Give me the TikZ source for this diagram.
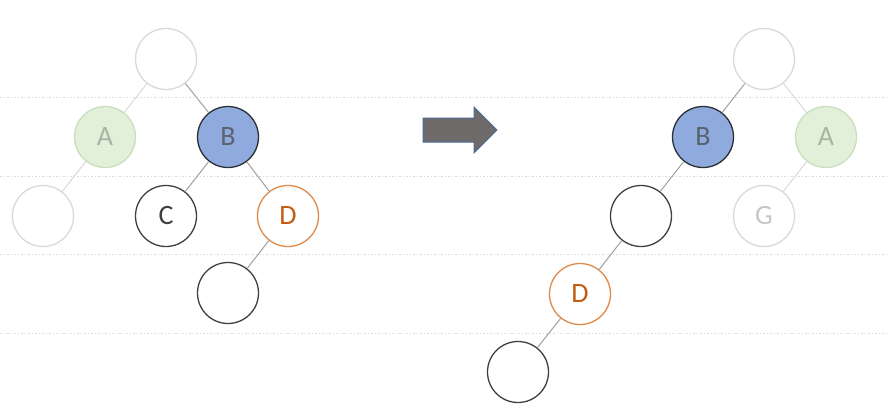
\documentclass[tikz,border=0pt]{standalone}
\usepackage{fontspec}
\setmainfont{Carlito}
\definecolor{faint}{HTML}{D9D9D9}
\definecolor{faintedge}{HTML}{D9D9D9}
\definecolor{darkedge}{HTML}{A0A0A0}
\definecolor{afill}{HTML}{E2F0D9}
\definecolor{aborder}{HTML}{C9DFBC}
\definecolor{atext}{HTML}{A9B3A4}
\definecolor{bfill}{HTML}{8FAADC}
\definecolor{bborder}{HTML}{2B2F36}
\definecolor{btext}{HTML}{5A6270}
\definecolor{cborder}{HTML}{404040}
\definecolor{dcol}{HTML}{C55A11}
\definecolor{dborder}{HTML}{E08A4A}
\definecolor{arrowfill}{HTML}{6F6A6A}
\definecolor{arrowborder}{HTML}{4A6A9E}
\definecolor{gridcol}{HTML}{DADADA}
\begin{document}
\begin{tikzpicture}[x=1pt,y=-1pt,
  circ/.style={circle,minimum size=61pt,inner sep=0pt,line width=1.3pt,fill=white,font=\fontsize{28}{28}\selectfont},
  lightc/.style={circ,draw=faint,text=faint!80!gray},
  acirc/.style={circ,draw=aborder,fill=afill,text=atext},
  bcirc/.style={circ,draw=bborder,fill=bfill,text=btext},
  darkc/.style={circ,draw=cborder,text=cborder},
  dcirc/.style={circ,draw=dborder,text=dcol},
  ledge/.style={draw=faintedge,line width=1pt},
  dedge/.style={draw=darkedge,line width=1pt},
  grid/.style={draw=gridcol,line width=0.8pt,dash pattern=on 1.5pt off 2pt}]
\useasboundingbox (0,0) rectangle (887,416);
\coordinate (g1l) at (0,97); \coordinate (g1r) at (887,97);
\coordinate (g2l) at (0,176); \coordinate (g2r) at (887,176);
\coordinate (g3l) at (0,254); \coordinate (g3r) at (887,254);
\coordinate (g4l) at (0,333); \coordinate (g4r) at (887,333);
\draw[grid] (g1l) -- (g1r);
\draw[grid] (g2l) -- (g2r);
\draw[grid] (g3l) -- (g3r);
\draw[grid] (g4l) -- (g4r);
% left tree
\node[lightc] (lr) at (166,59) {};
\node[acirc] (la) at (105,137) {A};
\node[bcirc] (lb) at (228,137) {B};
\node[lightc] (le) at (43,216) {};
\node[darkc] (lc) at (166,216) {C};
\node[dcirc] (ld) at (288,216) {D};
\node[darkc] (lbot) at (228,293) {};
\draw[ledge] (lr) -- (la);
\draw[dedge] (lr) -- (lb);
\draw[ledge] (la) -- (le);
\draw[dedge] (lb) -- (lc);
\draw[dedge] (lb) -- (ld);
\draw[dedge] (ld) -- (lbot);
% right tree
\node[lightc] (rr) at (764,59) {};
\node[bcirc] (rb) at (703,137) {B};
\node[acirc] (ra) at (826,137) {A};
\node[darkc] (re) at (641,216) {};
\node[lightc] (rg) at (764,216) {G};
\node[dcirc] (rd) at (580,294) {D};
\node[darkc] (rbot) at (518,372) {};
\draw[dedge] (rr) -- (rb);
\draw[ledge] (rr) -- (ra);
\draw[dedge] (rb) -- (re);
\draw[ledge] (ra) -- (rg);
\draw[dedge] (re) -- (rd);
\draw[dedge] (rd) -- (rbot);
% arrow
\draw[fill=arrowfill,draw=arrowborder,line width=1pt,line join=miter]
  (423,118) -- (474,118) -- (474,107) -- (497,130) -- (474,153) -- (474,142) -- (423,142) -- cycle;
\end{tikzpicture}
\end{document}
